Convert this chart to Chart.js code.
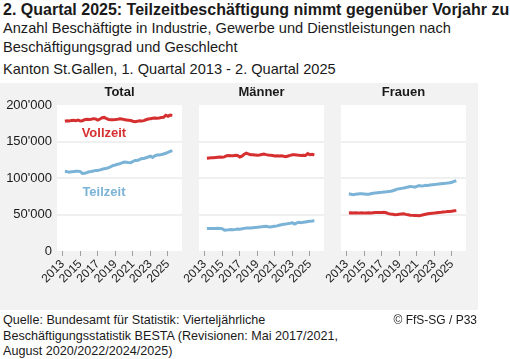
<!DOCTYPE html>
<html lang="de">
<head>
<meta charset="utf-8">
<script src="https://cdn.jsdelivr.net/npm/chart.js@4.4.1/dist/chart.umd.min.js"></script>
<style>
  body {
    margin: 0;
    width: 510px;
    height: 359px;
    position: relative;
    overflow: hidden;
    background: #fff;
    font-family: "Liberation Sans", Arial, sans-serif;
    color: #1a1a1a;
  }
  .txt { position: absolute; left: 3px; white-space: nowrap; }
  #title { top: 1px; font-size: 16px; font-weight: bold; line-height: 18px; }
  #subtitle { top: 19px; font-size: 14.6px; line-height: 19px; }
  #region { top: 60px; font-size: 14.6px; line-height: 19px; }
  #source { top: 313px; font-size: 12.6px; line-height: 15.5px; }
  #copy { position: absolute; top: 313px; right: 33px; font-size: 12px; line-height: 15.5px; }
  #panel { position: absolute; left: 0; top: 83px; width: 478px; height: 227px; background: #f2f2f2; }
  #panel canvas { position: absolute; top: 0; }
</style>
</head>
<body>
<div class="txt" id="title">2. Quartal 2025: Teilzeitbeschäftigung nimmt gegenüber Vorjahr zu</div>
<div class="txt" id="subtitle">Anzahl Beschäftigte in Industrie, Gewerbe und Dienstleistungen nach<br>Beschäftigungsgrad und Geschlecht</div>
<div class="txt" id="region">Kanton St.Gallen, 1. Quartal 2013 - 2. Quartal 2025</div>

<div id="panel">
  <canvas id="chart-total" width="190" height="227" style="left:0"></canvas>
  <canvas id="chart-maenner" width="154" height="227" style="left:178px"></canvas>
  <canvas id="chart-frauen" width="154" height="227" style="left:320px"></canvas>
</div>

<div class="txt" id="source">Quelle: Bundesamt für Statistik: Vierteljährliche<br>Beschäftigungsstatistik BESTA (Revisionen: Mai 2017/2021,<br>August 2020/2022/2024/2025)</div>
<div id="copy">© FfS-SG / P33</div>

<script>
// Quarters Q1 2013 .. Q2 2025 (50 quarters)
const quarters = [];
for (let y = 2013; y <= 2025; y++) {
  for (let q = 1; q <= 4; q++) {
    if (y === 2025 && q > 2) break;
    quarters.push(y + ' Q' + q);
  }
}

const yearTicks = [2013, 2015, 2017, 2019, 2021, 2023, 2025];
const yTicks = [0, 50000, 100000, 150000, 200000];
const panelTitles = ['Total', 'Männer', 'Frauen'];
const seriesNames = ['Vollzeit', 'Teilzeit'];

// values in thousands
const totalVollzeit = [
  177.8, 178.4, 178.2, 178.9, 179.0, 178.6, 179.3, 178.2, 178.5, 180.0,
  180.4, 180.1, 180.6, 181.3, 181.0, 179.4, 180.8, 182.5, 183.0, 181.2,
  180.2, 179.9, 179.8, 180.0, 180.3, 181.0, 180.7, 180.0, 179.6, 179.2,
  178.8, 177.8, 177.2, 177.6, 178.4, 178.2, 178.6, 179.8, 180.8, 181.3,
  181.8, 182.2, 182.0, 182.3, 182.8, 183.2, 186.0, 184.6, 186.2, 185.8
];
const totalTeilzeit = [
  109.2, 108.7, 108.0, 108.5, 108.8, 109.3, 109.4, 108.8, 106.3, 106.4,
  107.4, 108.5, 108.8, 109.5, 110.4, 110.3, 111.1, 112.0, 112.8, 113.4,
  114.2, 115.6, 117.1, 117.8, 118.8, 119.5, 120.6, 121.8, 121.6, 121.1,
  121.0, 122.6, 124.0, 124.1, 125.2, 126.6, 126.8, 127.8, 128.8, 129.8,
  128.2, 130.3, 131.4, 131.4, 132.1, 132.9, 133.9, 135.0, 136.4, 137.6
];
const maennerVollzeit = [
  127.2, 127.5, 127.8, 127.6, 128.0, 128.4, 128.8, 128.3, 128.9, 130.5,
  130.8, 130.4, 130.6, 131.0, 130.8, 128.8, 130.0, 132.5, 134.0, 132.8,
  132.0, 131.8, 131.5, 131.2, 131.6, 132.2, 132.7, 132.0, 131.4, 131.0,
  130.8, 130.2, 130.5, 130.0, 130.3, 129.8, 129.2, 130.2, 131.0, 131.7,
  131.8, 131.4, 131.0, 130.8, 131.2, 130.9, 133.4, 131.8, 132.4, 131.5
];
const maennerTeilzeit = [
  30.7, 30.9, 30.8, 30.9, 30.8, 31.0, 30.9, 30.6, 28.4, 28.8,
  29.0, 29.3, 29.2, 29.6, 30.2, 29.9, 30.4, 31.0, 31.4, 31.6,
  31.6, 32.0, 32.3, 32.6, 33.0, 33.2, 33.6, 34.0, 33.2, 32.9,
  33.5, 34.0, 34.4, 35.2, 36.0, 36.6, 37.0, 37.5, 38.0, 38.6,
  36.8, 38.5, 39.2, 38.8, 39.3, 39.8, 40.3, 40.8, 41.0, 41.3
];
const frauenVollzeit = [
  52.1, 52.3, 52.0, 52.4, 52.2, 52.0, 52.3, 51.9, 52.1, 52.3,
  52.0, 52.4, 52.7, 52.9, 52.6, 52.8, 53.0, 52.4, 51.2, 50.6,
  50.2, 49.8, 49.9, 50.3, 50.6, 50.9, 50.2, 49.6, 49.0, 48.8,
  48.6, 48.5, 48.4, 48.9, 49.6, 50.3, 51.0, 51.5, 51.8, 52.0,
  52.4, 52.8, 53.0, 53.3, 53.6, 54.2, 54.0, 54.6, 55.0, 55.3
];
const frauenTeilzeit = [
  78.5, 77.8, 77.2, 77.6, 78.0, 78.3, 78.5, 78.2, 77.9, 77.6,
  78.4, 79.2, 79.6, 79.9, 80.2, 80.4, 80.7, 81.0, 81.4, 81.8,
  82.6, 83.6, 84.8, 85.2, 85.8, 86.3, 87.0, 87.8, 88.4, 88.2,
  87.5, 88.6, 89.6, 88.9, 89.2, 90.0, 89.8, 90.3, 90.8, 91.2,
  91.4, 91.8, 92.2, 92.6, 92.8, 93.1, 93.6, 94.2, 95.4, 96.3
];

const COLOR_VZ = '#d62f2f';
const COLOR_TZ = '#7ab3d6';
const GRID = '#f0f0f0';
const FONT = '"Liberation Sans", Arial, sans-serif';

// x value of a quarter label: end of the quarter
function quarterToX(label) {
  const [y, q] = label.split(' Q');
  return Number(y) + Number(q) / 4;
}

function toPoints(values) {
  return values.map((v, i) => ({ x: quarterToX(quarters[i]), y: v * 1000 }));
}

function formatThousands(v) {
  return String(v).replace(/\B(?=(\d{3})+(?!\d))/g, "'");
}

// white plot background + panel title
const panelDecor = {
  id: 'panelDecor',
  beforeDraw(chart) {
    const { ctx, chartArea: a } = chart;
    ctx.save();
    ctx.fillStyle = '#fff';
    ctx.fillRect(a.left, a.top, a.width, a.height);
    ctx.restore();
  },
  afterDraw(chart, args, opts) {
    const { ctx, chartArea: a } = chart;
    ctx.save();
    ctx.font = 'bold 13px ' + FONT;
    ctx.fillStyle = '#1a1a1a';
    ctx.textAlign = 'center';
    ctx.textBaseline = 'middle';
    ctx.fillText(opts.title, (a.left + a.right) / 2, 9);
    ctx.restore();
  }
};

// series labels inside the Total panel
const seriesLabels = {
  id: 'seriesLabels',
  afterDatasetsDraw(chart, args, opts) {
    if (!opts.items) return;
    const { ctx, scales } = chart;
    ctx.save();
    ctx.font = 'bold 13px ' + FONT;
    ctx.textAlign = 'center';
    ctx.textBaseline = 'middle';
    opts.items.forEach(item => {
      ctx.fillStyle = item.color;
      ctx.fillText(item.text, scales.x.getPixelForValue(item.x), scales.y.getPixelForValue(item.y));
    });
    ctx.restore();
  }
};

function createPanel(canvasId, title, vz, tz, showY, labelItems) {
  const ctx = document.getElementById(canvasId).getContext('2d');
  return new Chart(ctx, {
    type: 'line',
    data: {
      datasets: [
        { label: seriesNames[0], data: toPoints(vz), borderColor: COLOR_VZ, borderWidth: 3, pointRadius: 0, tension: 0 },
        { label: seriesNames[1], data: toPoints(tz), borderColor: COLOR_TZ, borderWidth: 3, pointRadius: 0, tension: 0 }
      ]
    },
    options: {
      responsive: false,
      animation: false,
      devicePixelRatio: 1,
      layout: { padding: { top: 22, right: 8, left: showY ? 0 : 21, bottom: 0 } },
      scales: {
        x: {
          type: 'linear',
          min: 2012.35,
          max: 2026.6,
          afterBuildTicks: s => { s.ticks = yearTicks.map(v => ({ value: v })); },
          afterFit: s => { s.height = 59; },
          grid: { drawOnChartArea: false, drawTicks: true, tickLength: 5, tickColor: '#a0a0a0' },
          border: { display: false },
          ticks: {
            autoSkip: false,
            minRotation: 45,
            maxRotation: 45,
            padding: 1,
            color: '#222',
            font: { family: FONT, size: 12 },
            callback: v => String(v)
          }
        },
        y: {
          min: 0,
          max: 200000,
          afterBuildTicks: s => { s.ticks = yTicks.map(v => ({ value: v })); },
          afterFit: s => { s.width = showY ? 57 : 0; },
          grid: {
            drawTicks: false,
            lineWidth: 2,
            color: c => (c.tick && (c.tick.value === 0 || c.tick.value === 200000)) ? 'rgba(0,0,0,0)' : GRID
          },
          border: { display: false },
          ticks: {
            display: showY,
            padding: 5,
            color: '#1a1a1a',
            font: { family: FONT, size: 13 },
            callback: v => formatThousands(v)
          }
        }
      },
      plugins: {
        legend: { display: false },
        tooltip: { enabled: false },
        panelDecor: { title: title },
        seriesLabels: { items: labelItems }
      }
    },
    plugins: [panelDecor, seriesLabels]
  });
}

const totalLabels = [
  { text: seriesNames[0], color: COLOR_VZ, x: 2017.7, y: 161000 },
  { text: seriesNames[1], color: COLOR_TZ, x: 2017.7, y: 80000 }
];

createPanel('chart-total', panelTitles[0], totalVollzeit, totalTeilzeit, true, totalLabels);
createPanel('chart-maenner', panelTitles[1], maennerVollzeit, maennerTeilzeit, false, null);
createPanel('chart-frauen', panelTitles[2], frauenVollzeit, frauenTeilzeit, false, null);
</script>
</body>
</html>
